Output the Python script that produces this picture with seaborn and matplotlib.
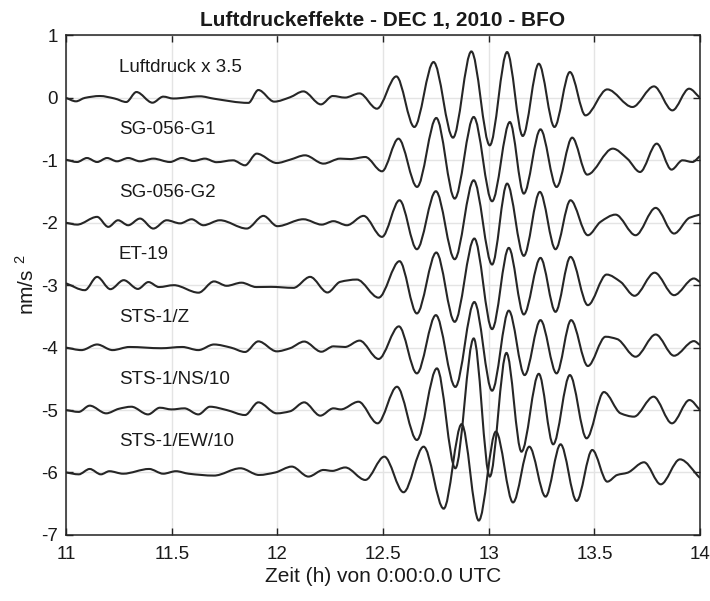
import numpy as np
import matplotlib
matplotlib.use("Agg")
import matplotlib.pyplot as plt
from matplotlib.path import Path
from matplotlib.patches import PathPatch
import seaborn as sns

# trace names, base level of each trace
names = ["Luftdruck x 3.5", "SG-056-G1", "SG-056-G2", "ET-19",
         "STS-1/Z", "STS-1/NS/10", "STS-1/EW/10"]
levels = [0, -1, -2, -3, -4, -5, -6]

# extrema of every trace (time in h, value in nm/s^2)
t_luft = [11.0, 11.047, 11.089, 11.16, 11.23, 11.285, 11.333, 11.409, 11.46, 11.507,
          11.634, 11.70, 11.863, 11.91, 11.985, 12.06, 12.123, 12.206, 12.262, 12.32,
          12.389, 12.471, 12.563, 12.648, 12.739, 12.831, 12.918, 13.005, 13.087, 13.161,
          13.237, 13.311, 13.384, 13.458, 13.561, 13.68, 13.782, 13.869, 13.948, 14.0]
y_luft = [0.0, -0.055, 0.0, 0.03, -0.01, -0.066, 0.094, -0.077, 0.02, -0.01,
          0.025, -0.013, -0.08, 0.126, -0.06, 0.01, 0.104, -0.104, 0.03, 0.005,
          0.072, -0.173, 0.344, -0.466, 0.574, -0.637, 0.744, -0.76, 0.734, -0.61,
          0.547, -0.466, 0.414, -0.28, 0.136, -0.146, 0.184, -0.2, 0.147, 0.0]

t_g1 = [11.0, 11.052, 11.099, 11.147, 11.194, 11.241, 11.294, 11.35, 11.413, 11.492,
        11.547, 11.602, 11.657, 11.712, 11.79, 11.847, 11.902, 11.997, 12.06, 12.131,
        12.218, 12.297, 12.345, 12.416, 12.495, 12.573, 12.661, 12.752, 12.839, 12.929,
        13.016, 13.1, 13.166, 13.245, 13.321, 13.395, 13.466, 13.587, 13.656, 13.716,
        13.795, 13.865, 13.917, 13.964, 14.0]
y_g1 = [-0.99, -1.027, -0.963, -1.027, -0.963, -1.016, -0.963, -1.016, -0.973, -1.027,
        -0.963, -1.011, -0.973, -1.03, -1.0, -1.08, -0.893, -1.043, -0.99, -0.92,
        -1.053, -0.973, -0.98, -0.947, -1.176, -0.653, -1.426, -0.322, -1.613, -0.306,
        -1.656, -0.387, -1.533, -0.504, -1.427, -0.637, -1.229, -0.813, -0.975, -1.187,
        -0.733, -1.149, -1.0, -1.027, -0.93]

t_g2 = [11.0, 11.052, 11.147, 11.2, 11.246, 11.294, 11.35, 11.413, 11.476, 11.54,
        11.594, 11.65, 11.728, 11.855, 11.934, 12.0, 12.123, 12.21, 12.265, 12.329,
        12.408, 12.495, 12.578, 12.66, 12.75, 12.839, 12.929, 13.016, 13.087, 13.166,
        13.242, 13.316, 13.387, 13.469, 13.529, 13.6, 13.695, 13.79, 13.877, 13.95, 14.0]
y_g2 = [-2.0, -2.03, -1.906, -2.066, -1.96, -2.04, -1.933, -2.093, -1.96, -2.01,
        -1.944, -2.04, -1.96, -2.093, -1.89, -2.055, -1.944, -2.03, -1.975, -2.04,
        -1.89, -2.226, -1.64, -2.424, -1.495, -2.584, -1.32, -2.669, -1.373, -2.53,
        -1.506, -2.424, -1.64, -2.2, -1.986, -1.87, -2.2, -1.762, -2.173, -1.92, -1.87]

t_et = [11.0, 11.089, 11.147, 11.21, 11.273, 11.34, 11.39, 11.44, 11.51, 11.627,
        11.7, 11.76, 11.83, 11.9, 11.97, 12.076, 12.155, 12.237, 12.297, 12.376,
        12.479, 12.578, 12.66, 12.752, 12.839, 12.932, 13.016, 13.095, 13.166, 13.245,
        13.316, 13.387, 13.469, 13.558, 13.624, 13.69, 13.785, 13.877, 13.971, 14.0]
y_et = [-2.97, -3.08, -2.867, -3.064, -2.92, -3.06, -2.95, -3.03, -3.0, -3.12,
        -2.94, -3.01, -2.96, -3.03, -3.027, -3.043, -2.867, -3.117, -2.947, -2.91,
        -3.2, -2.616, -3.453, -2.477, -3.587, -2.253, -3.704, -2.403, -3.469, -2.563,
        -3.427, -2.547, -3.32, -2.83, -2.947, -3.17, -2.8, -3.16, -2.893, -2.95]

t_z = [11.0, 11.073, 11.147, 11.22, 11.30, 11.45, 11.55, 11.626, 11.7, 11.78,
       11.847, 11.91, 11.997, 12.06, 12.127, 12.208, 12.265, 12.32, 12.389, 12.479,
       12.575, 12.66, 12.75, 12.842, 12.932, 13.016, 13.095, 13.17, 13.245, 13.321,
       13.39, 13.469, 13.553, 13.608, 13.695, 13.79, 13.877, 13.971, 14.0]
y_z = [-4.0, -4.04, -3.95, -4.04, -3.99, -4.01, -3.99, -4.04, -3.95, -4.0,
       -4.07, -3.9, -4.06, -4.01, -3.903, -4.066, -3.98, -3.99, -3.888, -4.182,
       -3.66, -4.413, -3.48, -4.63, -3.27, -4.69, -3.408, -4.44, -3.56, -4.413,
       -3.56, -4.295, -3.826, -3.864, -4.146, -3.79, -4.13, -3.896, -3.96]

t_ns = [11.0, 11.06, 11.112, 11.19, 11.25, 11.309, 11.388, 11.444, 11.50, 11.56,
        11.626, 11.681, 11.76, 11.847, 11.91, 11.997, 12.06, 12.127, 12.203, 12.265,
        12.30, 12.384, 12.474, 12.566, 12.66, 12.755, 12.842, 12.929, 13.005, 13.084,
        13.155, 13.237, 13.305, 13.384, 13.463, 13.545, 13.624, 13.687, 13.78, 13.867,
        13.95, 14.0]
y_ns = [-5.0, -5.03, -4.93, -5.053, -4.98, -4.947, -5.07, -4.963, -4.99, -4.973,
        -5.07, -4.947, -5.0, -5.08, -4.877, -5.053, -5.02, -4.877, -5.09, -4.973,
        -4.99, -4.867, -5.213, -4.627, -5.48, -4.333, -5.933, -3.853, -6.066, -4.085,
        -5.667, -4.42, -5.549, -4.44, -5.453, -4.712, -5.053, -5.106, -4.786, -5.213,
        -4.84, -5.0]

t_ew = [11.0, 11.06, 11.112, 11.165, 11.205, 11.27, 11.393, 11.46, 11.52, 11.58,
        11.7, 11.825, 11.913, 11.99, 12.068, 12.147, 12.218, 12.26, 12.321, 12.416,
        12.506, 12.597, 12.692, 12.787, 12.872, 12.953, 13.034, 13.115, 13.192, 13.269,
        13.34, 13.416, 13.49, 13.561, 13.608, 13.656, 13.735, 13.814, 13.905, 14.0]
y_ew = [-6.0, -6.03, -5.944, -6.03, -5.98, -6.02, -5.944, -6.02, -5.98, -6.02,
        -6.05, -5.933, -6.04, -6.0, -5.906, -6.066, -5.96, -5.975, -5.92, -6.12,
        -5.747, -6.317, -5.587, -6.58, -5.226, -6.77, -5.346, -6.48, -5.587, -6.387,
        -5.549, -6.456, -5.64, -6.147, -6.04, -6.005, -5.837, -6.19, -5.79, -6.09]

traces = [(t_luft, y_luft), (t_g1, y_g1), (t_g2, y_g2), (t_et, y_et),
          (t_z, y_z), (t_ns, y_ns), (t_ew, y_ew)]


def smooth_path(t, y):
    # cubic bezier through the extrema, flat tangent at every turning point
    t = np.asarray(t, float)
    y = np.asarray(y, float)
    h = np.diff(t)
    d = np.diff(y) / h
    m = np.zeros_like(y)
    for i in range(1, len(y) - 1):
        if d[i - 1] * d[i] > 0:
            w1 = 2 * h[i] + h[i - 1]
            w2 = h[i] + 2 * h[i - 1]
            m[i] = (w1 + w2) / (w1 / d[i - 1] + w2 / d[i])
    m[0] = d[0]
    m[-1] = d[-1]
    verts = [(t[0], y[0])]
    codes = [Path.MOVETO]
    for i in range(len(t) - 1):
        verts += [(t[i] + h[i] / 3, y[i] + m[i] * h[i] / 3),
                  (t[i + 1] - h[i] / 3, y[i + 1] - m[i + 1] * h[i] / 3),
                  (t[i + 1], y[i + 1])]
        codes += [Path.CURVE4] * 3
    return Path(verts, codes)


sns.set_theme(style="whitegrid")
plt.rcParams['font.family'] = ['Liberation Sans', 'DejaVu Sans']
plt.rcParams['mathtext.fontset'] = 'custom'
plt.rcParams['mathtext.rm'] = 'Liberation Sans'
plt.rcParams['axes.unicode_minus'] = False

fig = plt.figure(figsize=(7.1, 6.01), dpi=100)
ax = fig.add_axes([0.093, 0.110, 0.893, 0.831])

for (t, y), name, lev in zip(traces, names, levels):
    ax.add_patch(PathPatch(smooth_path(t, y), fill=False, edgecolor="#262626", lw=1.5))
    ax.text(11.25, lev + 0.49, name, fontsize=13.5, va="center", ha="left", color="#1a1a1a")

ax.set_xlim(11, 14)
ax.set_ylim(-7, 1)
ax.set_xticks([11, 11.5, 12, 12.5, 13, 13.5, 14])
ax.set_xticklabels(["11", "11.5", "12", "12.5", "13", "13.5", "14"])
ax.set_yticks(range(-7, 2))
ax.grid(True, color="#e4e4e4", lw=1)
ax.set_facecolor("white")
for s in ax.spines.values():
    s.set_color("#222222")
    s.set_linewidth(1.1)
ax.tick_params(axis="both", direction="in", length=5, width=1, color="#222222",
               top=True, right=True, bottom=True, left=True, labelsize=13.5,
               labelcolor="#1a1a1a")
ax.tick_params(axis="x", pad=8)
ax.tick_params(axis="y", pad=6)

ax.set_title("Luftdruckeffekte - DEC 1, 2010 - BFO", fontsize=15, fontweight="bold",
             color="#1a1a1a", pad=7)
ax.set_xlabel("Zeit (h) von 0:00:0.0 UTC", fontsize=15, color="#1a1a1a", labelpad=3)
ax.set_ylabel("nm/s $^2$", fontsize=15, color="#1a1a1a", labelpad=2)

fig.savefig("out.png", dpi=100, facecolor="white")
